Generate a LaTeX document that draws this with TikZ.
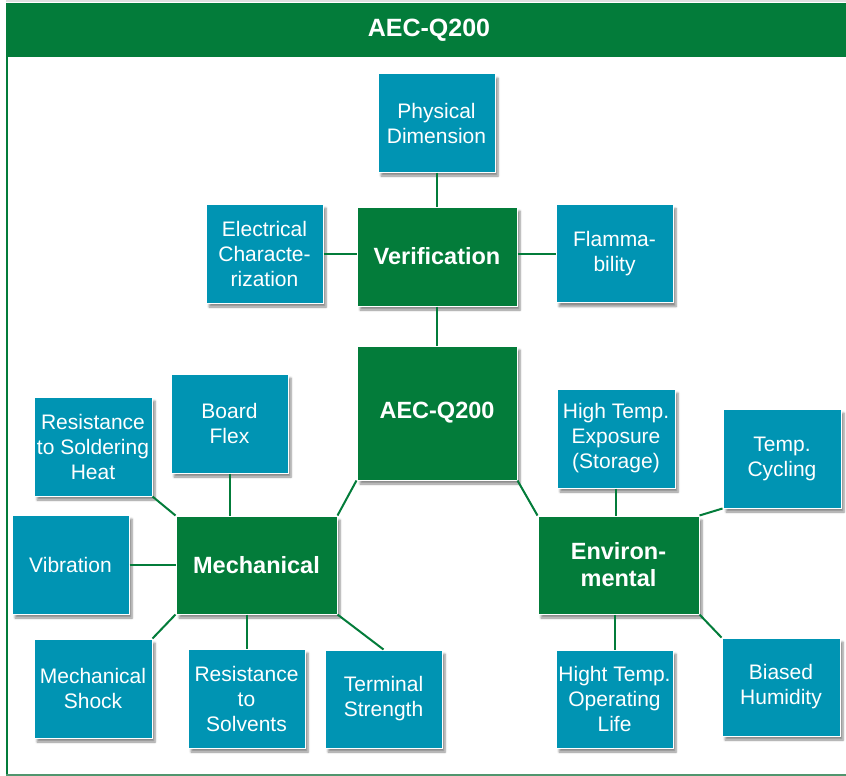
\documentclass[tikz,border=0pt]{standalone}
\usepackage{fontspec}
\setmainfont{Liberation Sans}
\usetikzlibrary{shadows.blur}
\definecolor{grn}{RGB}{3,124,58}
\definecolor{teal2}{RGB}{0,148,179}
\definecolor{frameline}{RGB}{80,150,110}
\tikzset{
  boxbase/.style={rectangle, draw=white, line width=1pt, inner sep=0pt, align=center, text=white,
    blur shadow={shadow xshift=3pt, shadow yshift=-4pt, shadow blur steps=6, shadow opacity=45}},
  tbox/.style={boxbase, fill=teal2, minimum width=117pt, minimum height=98pt, font=\fontsize{21}{25}\selectfont},
  gbox/.style={boxbase, fill=grn, minimum width=160pt, minimum height=98pt, font=\fontsize{23.5}{27}\selectfont\bfseries},
  conn/.style={draw=grn, line width=2pt}
}
\begin{document}
\begin{tikzpicture}[x=1pt,y=-1pt]
\useasboundingbox (0,0) rectangle (846,776);
% frame and header
\fill[gray!25] (6,0.5) rectangle (846,2);
\fill[grn] (6,3) rectangle (846,57);
\node[text=white, font=\fontsize{25}{28}\selectfont\bfseries] (title) at (429,30) {AEC-Q200};
\draw[grn, line width=2pt] (7,57) -- (7,775);
\draw[frameline, line width=2pt] (6,775) -- (846,775);
% verification group
\node[tbox] (phys) at (436.5,123) {Physical\\Dimension};
\node[gbox, minimum height=99pt] (verif) at (437,256.5) {Verification};
\node[tbox, minimum height=99pt] (elec) at (264.5,253.5) {Electrical\\Characte-\\rization};
\node[tbox] (flam) at (614.5,253.5) {Flamma-\\bility};
\node[gbox, minimum height=134pt] (aec) at (437,413) {AEC-Q200};
% mechanical group
\node[tbox, minimum height=99pt] (bflex) at (229.5,423.5) {Board\\Flex};
\node[tbox, minimum width=118pt, minimum height=99pt] (rsh) at (93,446.5) {Resistance\\to Soldering\\Heat};
\node[tbox, minimum height=99pt] (vib) at (70.5,564.5) {Vibration};
\node[gbox, minimum width=161pt] (mech) at (256.5,565) {Mechanical};
\node[tbox, minimum width=118pt, minimum height=99pt] (mshock) at (93,688.5) {Mechanical\\Shock};
\node[tbox, minimum height=99pt] (solv) at (246.5,698.5) {Resistance\\to\\Solvents};
\node[tbox] (term) at (383.5,699) {Terminal\\Strength};
% environmental group
\node[tbox, minimum width=118pt, minimum height=99pt] (hte) at (616,438.5) {High Temp.\\Exposure\\(Storage)};
\node[tbox, minimum width=118pt, minimum height=99pt] (tempc) at (782,458.5) {Temp.\\Cycling};
\node[gbox, minimum width=161pt] (env) at (618.5,565) {Environ-\\mental};
\node[tbox] (hto) at (614.5,699) {Hight Temp.\\Operating\\Life};
\node[tbox, minimum width=118pt] (bhum) at (781,687) {Biased\\Humidity};
% connectors
\draw[conn] (phys.south -| verif.north) -- (verif.north);
\draw[conn] (elec.east) -- (elec.east -| verif.west);
\draw[conn] (flam.west -| verif.east) -- (flam.west);
\draw[conn] (verif.south) -- (aec.north);
\draw[conn] (aec.south west) -- (mech.north east);
\draw[conn] (aec.south east) -- (env.north west);
\draw[conn] (bflex.south) -- (bflex.south |- mech.north);
\draw[conn] (rsh.south east) -- (mech.north west);
\draw[conn] (vib.east) -- (vib.east -| mech.west);
\draw[conn] (mech.south west) -- (mshock.north east);
\draw[conn] (solv.north |- mech.south) -- (solv.north);
\draw[conn] (mech.south east) -- (term.north);
\draw[conn] (hte.south) -- (hte.south |- env.north);
\draw[conn] (env.north east) -- (tempc.south west);
\draw[conn] (hto.north |- env.south) -- (hto.north);
\draw[conn] (env.south east) -- (bhum.north west);
\end{tikzpicture}
\end{document}
